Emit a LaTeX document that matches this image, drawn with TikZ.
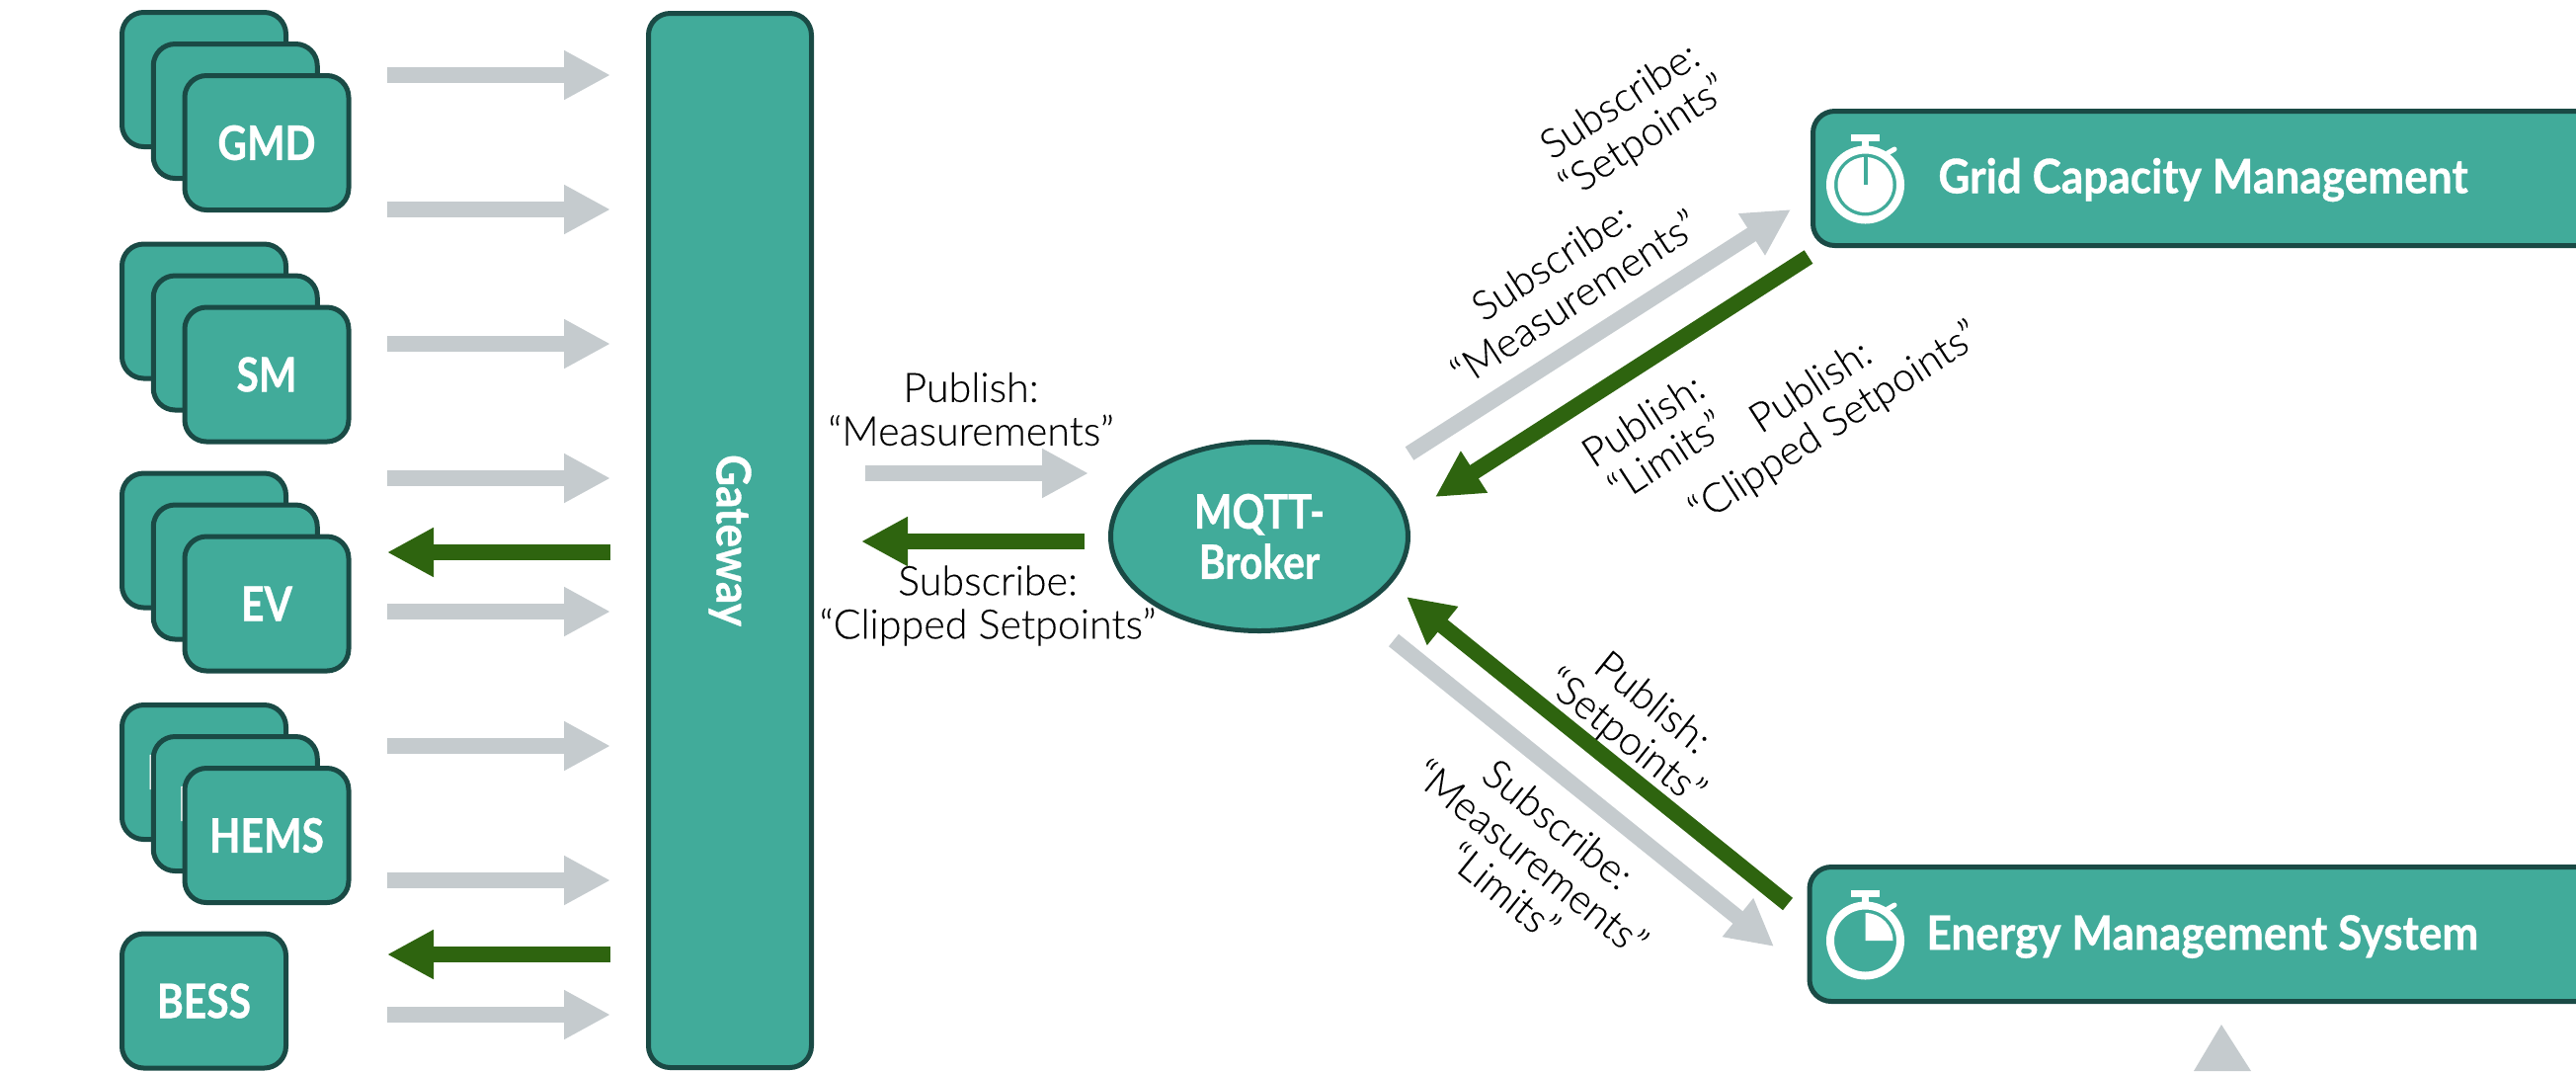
\documentclass[tikz,border=0pt]{standalone}
\usepackage{fontspec}
\usetikzlibrary{arrows.meta,shapes.geometric}
\newfontfamily\hdfont[FakeStretch=0.85,BoldFeatures={FakeBold=0.7}]{Lato}
\newfontfamily\hdwide[FakeStretch=0.92,BoldFeatures={FakeBold=0.7}]{Lato}
\newfontfamily\lblfont[FakeBold=0.15]{Lato Light}
\definecolor{teal1}{HTML}{41AB9A}
\definecolor{edge1}{HTML}{1A4A45}
\definecolor{grey1}{HTML}{C5CBCE}
\definecolor{green1}{HTML}{2E640F}
\tikzset{
  devbox/.style={draw=edge1,fill=teal1,line width=2.5pt,rounded corners=11pt,minimum width=83pt,minimum height=68pt,inner sep=0pt},
  hd/.style={text=white,font=\hdfont\bfseries\fontsize{24pt}{25.5pt}\selectfont,align=center,inner sep=0pt},
  hdw/.style={text=white,font=\hdwide\bfseries\fontsize{24pt}{25.5pt}\selectfont,align=center,inner sep=0pt},
  lbl/.style={text=black,font=\lblfont\fontsize{20.6pt}{22pt}\selectfont,align=center,inner sep=0pt},
  gflow/.style={draw=grey1,line width=8pt,-{Triangle[length=23.5pt,width=23.5pt]}},
  rflow/.style={draw=green1,line width=8pt,-{Triangle[length=23.5pt,width=23.5pt]}},
}
\newcommand{\watchbody}{%
  \draw[white,line width=4pt] (0,0) circle [radius=35.5];
  \fill[white] (-14.5,-51) rectangle (14,-44);
  \fill[white] (-3.5,-44) rectangle (3.5,-38);
  \draw[white,line width=2.5pt,line cap=round] (22.5,-32) -- (29.5,-36);
}
\begin{document}
\begin{tikzpicture}[x=0.5pt,y=-0.5pt]
\clip (0,0) rectangle (2608,1084);
% device stacks
\node[devbox] (gmdA) at (206.5,80.5) {};
\node[devbox] (gmdB) at (238.25,112.5) {};
\node[devbox] (gmdC) at (270,144.5) {};
\node[hd] (gmdT) at (gmdC) {GMD};
\node[devbox] (smA) at (206.5,315) {};
\node[devbox] (smB) at (238.25,347) {};
\node[devbox] (smC) at (270,379) {};
\node[hd] (smT) at (smC) {SM};
\node[devbox] (evA) at (206.5,547) {};
\node[devbox] (evB) at (238.25,579) {};
\node[devbox] (evC) at (270,611) {};
\node[hd] (evT) at (evC) {EV};
\node[devbox] (hemsA) at (206.5,781.5) {};
\node[hd] (hemsAT) at (hemsA) {HEMS};
\node[devbox] (hemsB) at (238.25,813.5) {};
\node[hd] (hemsBT) at (hemsB) {HEMS};
\node[devbox] (hemsC) at (270,845.5) {};
\node[hd] (hemsCT) at (hemsC) {HEMS};
\node[devbox] (bess) at (206.5,1013) {};
\node[hd] (bessT) at (bess) {BESS};
% gateway
\node[devbox,minimum width=82.5pt,minimum height=533.5pt] (gw) at (739,547) {};
\node[hdw,rotate=-90] (gwT) at (gw) {Gateway};
% broker
\node[draw=edge1,fill=teal1,line width=2.5pt,ellipse,minimum width=150.5pt,minimum height=95.5pt,inner sep=0pt] (mqtt) at (1275,543) {};
\node[hd] (mqttT) at (1275,543) {MQTT-\\Broker};
% management boxes
\node[devbox,anchor=west,minimum width=420pt,minimum height=68pt] (gcm) at (1833,180.5) {};
\node[hdw,anchor=west] (gcmT) at (1962,182) {Grid Capacity Management};
\node[devbox,anchor=west,minimum width=420pt,minimum height=68pt] (ems) at (1829.5,945.5) {};
\node[hdw,anchor=west] (emsT) at (1950,948) {Energy Management System};
% stopwatches
\begin{scope}[shift={(1888.5,187)}]
  \watchbody
  \fill[white] (0,0) circle [radius=28];
  \draw[teal1,line width=2pt] (0,-28) -- (0,0);
\end{scope}
\begin{scope}[shift={(1888.5,952)}]
  \watchbody
  \fill[white] (0,0) -- (0,-28) arc [start angle=-90,end angle=0,radius=28] -- cycle;
\end{scope}
% device arrows
\foreach \i/\y in {1/76,2/212,3/348,4/484,5/619,6/755,7/891,8/1027}{
  \coordinate (ga\i) at (392,\y);
  \coordinate (gb\i) at (618,\y);
  \draw[gflow] (ga\i) -- (gb\i);
}
\coordinate (ra1) at (618,559); \coordinate (rb1) at (392,559);
\draw[rflow] (ra1) -- (rb1);
\coordinate (ra2) at (618,966); \coordinate (rb2) at (392,966);
\draw[rflow] (ra2) -- (rb2);
% broker arrows
\coordinate (pa) at (876,479); \coordinate (pb) at (1102,479);
\draw[gflow] (pa) -- (pb);
\coordinate (sa) at (1098,548); \coordinate (sb) at (872,548);
\draw[rflow] (sa) -- (sb);
\coordinate (ua) at (1427,459); \coordinate (ub) at (1813,212);
\draw[gflow] (ua) -- (ub);
\coordinate (va) at (1831,260); \coordinate (vb) at (1453,503);
\draw[rflow] (va) -- (vb);
\coordinate (wa) at (1810,915); \coordinate (wb) at (1424,604);
\draw[rflow] (wa) -- (wb);
\coordinate (xa) at (1411,648); \coordinate (xb) at (1796,958);
\draw[gflow] (xa) -- (xb);
% partial arrow at the bottom edge
\fill[grey1] (2249,1037) -- (2279,1084) -- (2221,1084) -- cycle;
% labels
\node[lbl] (l1) at (983,414) {Publish:\\“Measurements”};
\node[lbl] (l2) at (1000,613) {Subscribe:\\“Clipped Setpoints”};
\node[lbl,rotate=33] (l3) at (1653,122) {Subscribe:\\“Setpoints”};
\node[lbl,rotate=33] (l4) at (1582,283) {Subscribe:\\“Measurements”};
\node[lbl,rotate=33] (l5) at (1675,443) {Publish:\\“Limits”};
\node[lbl,rotate=33] (l6) at (1846,411) {Publish:\\“Clipped Setpoints”};
\node[lbl,rotate=-39] (l7) at (1658,730) {Publish:\\“Setpoints”};
\node[lbl,rotate=-39] (l8) at (1550,868) {Subscribe:\\“Measurements”\\“Limits”};
\end{tikzpicture}
\end{document}
